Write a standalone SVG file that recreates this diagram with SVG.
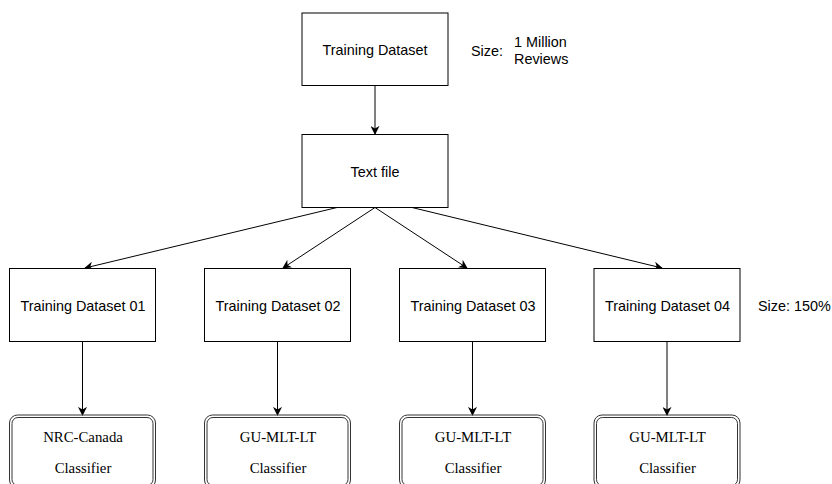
<svg xmlns="http://www.w3.org/2000/svg" width="832" height="484" viewBox="0 0 832 484">
<style>
.box{fill:#fff;stroke:#000;stroke-width:1}
.cls{fill:none;stroke:#333;stroke-width:1}
.t{font-family:"Liberation Sans",Arial,sans-serif;font-size:14.4px;fill:#000;text-anchor:middle}
.tl{font-family:"Liberation Sans",Arial,sans-serif;font-size:14.4px;fill:#000}
.s{font-family:"Liberation Serif","Times New Roman",serif;font-size:14.8px;fill:#000;text-anchor:middle}
.c{stroke:#000;stroke-width:1;fill:none;marker-end:url(#arr)}
</style>
<defs>
<marker id="arr" viewBox="0 0 10 10" refX="9" refY="5" markerWidth="9" markerHeight="9" markerUnits="userSpaceOnUse" orient="auto">
<path d="M0,0 L10,5 L0,10 L3,5 Z" fill="#000"/>
</marker>
</defs>
<g id="connectors">
<line class="c" x1="375" y1="85.5" x2="375" y2="134"/>
<line class="c" x1="337" y1="207.5" x2="85" y2="268"/>
<line class="c" x1="375" y1="207.5" x2="283" y2="268"/>
<line class="c" x1="375" y1="207.5" x2="467" y2="268"/>
<line class="c" x1="412" y1="207.5" x2="662" y2="268"/>
<line class="c" x1="82.5" y1="341.5" x2="82.5" y2="415"/>
<line class="c" x1="277.5" y1="341.5" x2="277.5" y2="415"/>
<line class="c" x1="472.5" y1="341.5" x2="472.5" y2="415"/>
<line class="c" x1="667" y1="341.5" x2="667" y2="415"/>
</g>
<g id="training-dataset">
<rect class="box" x="302" y="13" width="146" height="72.5"/>
<text class="t" x="375" y="55">Training Dataset</text>
</g>
<g id="size-label-1">
<text class="tl" x="471" y="55.5">Size:</text>
<text class="tl" x="514" y="46.5">1 Million</text>
<text class="tl" x="514" y="63.5">Reviews</text>
</g>
<g id="text-file">
<rect class="box" x="302" y="134.5" width="146" height="73"/>
<text class="t" x="375" y="176.5">Text file</text>
</g>
<g id="dataset-01">
<rect class="box" x="9.5" y="268.5" width="146" height="73"/>
<text class="t" x="83" y="310.5">Training Dataset 01</text>
</g>
<g id="dataset-02">
<rect class="box" x="204.5" y="268.5" width="146" height="73"/>
<text class="t" x="278" y="310.5">Training Dataset 02</text>
</g>
<g id="dataset-03">
<rect class="box" x="399.5" y="268.5" width="146" height="73"/>
<text class="t" x="473" y="310.5">Training Dataset 03</text>
</g>
<g id="dataset-04">
<rect class="box" x="594" y="268.5" width="146" height="73"/>
<text class="t" x="667.5" y="310.5">Training Dataset 04</text>
</g>
<g id="size-label-2">
<text class="tl" x="758" y="310.5">Size: 150%</text>
</g>
<g id="classifier-01">
<rect class="cls" x="9.5" y="415" width="146" height="73" rx="8"/>
<rect class="cls" x="12" y="417.5" width="141" height="68" rx="6"/>
<text class="s" x="83" y="441.5">NRC-Canada</text>
<text class="s" x="83" y="472.5">Classifier</text>
</g>
<g id="classifier-02">
<rect class="cls" x="204.5" y="415" width="146" height="73" rx="8"/>
<rect class="cls" x="207" y="417.5" width="141" height="68" rx="6"/>
<text class="s" x="278" y="441.5">GU-MLT-LT</text>
<text class="s" x="278" y="472.5">Classifier</text>
</g>
<g id="classifier-03">
<rect class="cls" x="399.5" y="415" width="146" height="73" rx="8"/>
<rect class="cls" x="402" y="417.5" width="141" height="68" rx="6"/>
<text class="s" x="473" y="441.5">GU-MLT-LT</text>
<text class="s" x="473" y="472.5">Classifier</text>
</g>
<g id="classifier-04">
<rect class="cls" x="594" y="415" width="146" height="73" rx="8"/>
<rect class="cls" x="596.5" y="417.5" width="141" height="68" rx="6"/>
<text class="s" x="667.5" y="441.5">GU-MLT-LT</text>
<text class="s" x="667.5" y="472.5">Classifier</text>
</g>
</svg>
